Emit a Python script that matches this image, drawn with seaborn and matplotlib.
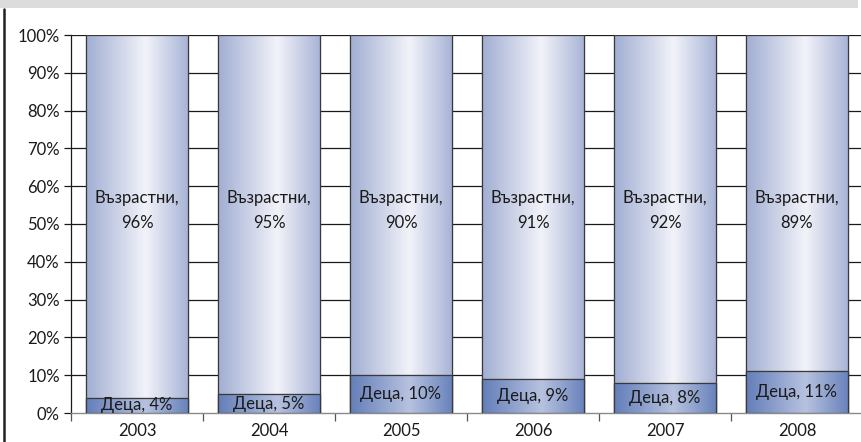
import numpy as np
import pandas as pd
import matplotlib
matplotlib.use("Agg")
import matplotlib.pyplot as plt
from matplotlib.colors import LinearSegmentedColormap
from matplotlib.patches import Rectangle
import seaborn as sns

years = ["2003", "2004", "2005", "2006", "2007", "2008"]
children = [4, 5, 10, 9, 8, 11]
adults = [96, 95, 90, 91, 92, 89]
label_children = "Деца"
label_adults = "Възрастни"

sns.set_theme(style="white")
plt.rcParams["font.family"] = ["Lato", "DejaVu Sans"]
FS = 12

df = pd.DataFrame({"year": years, "children": children, "adults": adults})
df["total"] = df["children"] + df["adults"]

fig = plt.figure(figsize=(8.61, 4.42), dpi=100)
ax = fig.add_axes([71 / 861, 1 - 413 / 442, 792 / 861, 378 / 442])

# stacked bars: full height first, children on top of it
sns.barplot(data=df, x="year", y="total", ax=ax, color="#c0c8e0", width=0.78,
            edgecolor="#3a3a3a", linewidth=0.8, zorder=2)
n_top = len(ax.patches)
sns.barplot(data=df, x="year", y="children", ax=ax, color="#7f95c6", width=0.78,
            edgecolor="#3a3a3a", linewidth=0.8, zorder=3)

light = LinearSegmentedColormap.from_list(
    "light", [(0, "#a1aed3"), (0.58, "#f2f3f9"), (1, "#a7b3d6")])
dark = LinearSegmentedColormap.from_list(
    "dark", [(0, "#637eb9"), (0.58, "#b7c2df"), (1, "#6882bc")])
grad = np.linspace(0, 1, 256).reshape(1, -1)

for i, p in enumerate(ax.patches):
    cmap = light if i < n_top else dark
    x0, y0 = p.get_x(), p.get_y()
    w, h = p.get_width(), p.get_height()
    im = ax.imshow(grad, cmap=cmap, aspect="auto",
                   extent=[x0, x0 + w, y0, y0 + h],
                   zorder=p.get_zorder() + 0.1, interpolation="bicubic")
    im.set_clip_path(p)
    edge = Rectangle((x0, y0), w, h, fill=False, edgecolor="#3a3a3a",
                     linewidth=0.9, zorder=p.get_zorder() + 0.2)
    ax.add_patch(edge)

# value labels inside each segment
for i, (c, a) in enumerate(zip(children, adults)):
    ax.text(i, c / 2, f"{label_children}, {c}%", ha="center", va="center",
            fontsize=FS, color="#1a1a1a", zorder=6)
    ax.text(i, 53.5, f"{label_adults},\n{a}%", ha="center",
            va="center", fontsize=FS, color="#1a1a1a", zorder=6,
            linespacing=1.7)

ax.set_xlim(-0.5, len(years) - 0.5)
ax.set_ylim(0, 100)
ax.set_yticks(range(0, 101, 10))
ax.set_yticklabels([f"{v}%" for v in range(0, 101, 10)], fontsize=FS,
                   color="#1a1a1a")
ax.set_xticks(range(len(years)))
ax.set_xticklabels(years, fontsize=FS, color="#1a1a1a")
ax.set_xlabel("")
ax.set_ylabel("")

ax.grid(False)
for v in range(10, 101, 10):
    ax.axhline(v, color="#1a1a1a", linewidth=0.9, zorder=1)

for s in ["top", "right"]:
    ax.spines[s].set_visible(False)
ax.spines["left"].set_color("#1a1a1a")
ax.spines["left"].set_linewidth(0.9)
ax.spines["bottom"].set_color("#8a8a8a")
ax.spines["bottom"].set_linewidth(1.0)

ax.tick_params(axis="y", which="major", length=5, width=0.9, color="#1a1a1a",
               direction="out", left=True, pad=3)
ax.tick_params(axis="x", which="major", length=0, pad=7)
# category boundary ticks on the x axis
ax.set_xticks(np.arange(-0.5, len(years), 1), minor=True)
ax.tick_params(axis="x", which="minor", length=6, width=0.9,
               color="#555555", direction="out", bottom=True)

# header band and left frame line
fig.add_artist(Rectangle((0, 1 - 8 / 442), 858 / 861, 8 / 442,
                         transform=fig.transFigure, color="#dcdcdc", lw=0))
fig.add_artist(plt.Line2D([4 / 861, 4 / 861], [0, 1 - 9 / 442],
                          transform=fig.transFigure, color="#222222", lw=1.8))

fig.savefig("out.png", dpi=100)
